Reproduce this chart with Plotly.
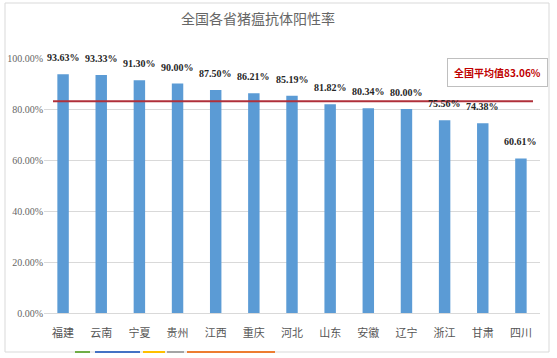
import plotly.graph_objects as go

provinces = ["福建", "云南", "宁夏", "贵州", "江西", "重庆", "河北", "山东", "安徽", "辽宁", "浙江", "甘肃", "四川"]
rates = [93.63, 93.33, 91.30, 90.00, 87.50, 86.21, 85.19, 81.82, 80.34, 80.00, 75.56, 74.38, 60.61]
national_avg = 83.06
title_text = "全国各省猪瘟抗体阳性率"
avg_label = "全国平均值83.06%"

W, H = 557, 358
ml, mr, mt, mb = 44, 17, 58, 45
pw = W - ml - mr
ph = H - mt - mb

def px(x):
    return (x - ml) / pw

def py(y):
    return (H - mb - y) / ph

fig = go.Figure()
fig.add_trace(go.Bar(
    x=provinces, y=rates,
    marker=dict(color="#5B9BD5", line=dict(width=0)),
    width=0.3,
    hoverinfo="skip",
))

annotations = []
for p, v in zip(provinces, rates):
    annotations.append(dict(x=p, y=v, xref="x", yref="y", text=f"<b>{v:.2f}%</b>", showarrow=False,
                            xanchor="center", yanchor="bottom", yshift=9,
                            font=dict(family="Liberation Serif", size=10, color="#262626")))
annotations.append(dict(text="<b>" + avg_label + "</b>", xref="paper", yref="paper",
                        x=px(497), y=py(72), xanchor="center", yanchor="middle", showarrow=False,
                        font=dict(family="Noto Sans CJK SC", size=10, color="#C00000"),
                        bordercolor="#BFBFBF", borderwidth=1, borderpad=6, bgcolor="white"))

shapes = [
    dict(type="line", xref="paper", yref="y", x0=px(53), x1=px(533), y0=national_avg, y1=national_avg,
         line=dict(color="#B0303A", width=2), layer="above"),
    dict(type="rect", xref="paper", yref="paper", x0=px(5), x1=px(549), y0=py(352), y1=py(3),
         line=dict(color="#D9D9D9", width=1), layer="below"),
]
seg = [(75, 90, "#70AD47"), (95, 140, "#4472C4"), (143, 165, "#FFC000"), (167, 184, "#A5A5A5"), (187, 275, "#ED7D31")]
for a, b, c in seg:
    shapes.append(dict(type="line", xref="paper", yref="paper", x0=px(a), x1=px(b), y0=py(352), y1=py(352),
                       line=dict(color=c, width=2)))

fig.update_layout(
    width=W, height=H,
    margin=dict(l=ml, r=mr, t=mt, b=mb, autoexpand=False),
    paper_bgcolor="white", plot_bgcolor="white",
    showlegend=False,
    title=dict(text=title_text, xref="container", x=258 / W, xanchor="center",
               yref="container", y=1 - 19 / H, yanchor="middle",
               font=dict(family="Noto Sans CJK SC", size=14, color="#666666")),
    bargap=0.7,
    xaxis=dict(showgrid=False, showline=True, linecolor="#D9D9D9", linewidth=1, ticks="",
               automargin=False, ticklabelstandoff=10,
               tickfont=dict(family="Noto Sans CJK SC", size=11, color="#555555")),
    yaxis=dict(range=[0, 100], dtick=20, tickformat=".2f", ticksuffix="%", showgrid=True,
               automargin=False,
               gridcolor="#D9D9D9", gridwidth=1, zeroline=False, showline=False, ticks="",
               tickfont=dict(family="Liberation Serif", size=10, color="#666666")),
    shapes=shapes,
    annotations=annotations,
)
fig.write_html("out.html", config={"displayModeBar": False},
               post_script="document.body.style.margin='0px';")
